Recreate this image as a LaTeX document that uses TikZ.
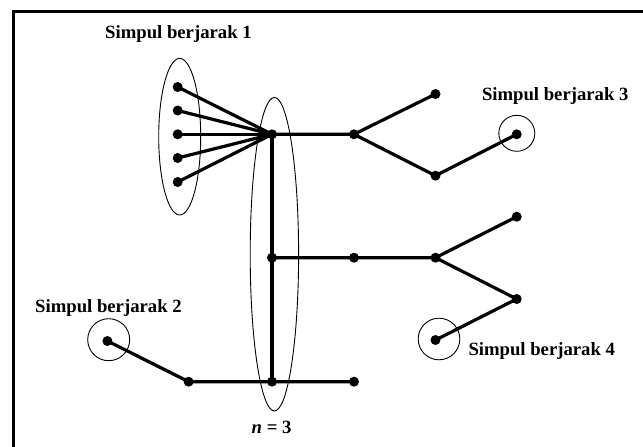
\documentclass[tikz,border=0pt]{standalone}
\usepackage{fontspec}
\setmainfont{Liberation Serif}
\usetikzlibrary{shapes.geometric}
\begin{document}
\begin{tikzpicture}[x=1pt,y=-1pt,
  dot/.style={circle,fill=black,inner sep=0pt,minimum size=10pt},
  edge/.style={line width=3.2pt},
  ring/.style={line width=0.9pt},
  lbl/.style={anchor=base west,inner sep=0pt,font=\fontsize{18.7}{20}\selectfont\bfseries}]
\useasboundingbox (0,0) rectangle (643,447);
% frame
\draw[line width=3pt] (13.5,452) -- (13.5,11.5) -- (650,11.5);
% nodes
\node[dot] (L1) at (177.7,87) {};
\node[dot] (L2) at (177.7,110.5) {};
\node[dot] (L3) at (177.7,134.3) {};
\node[dot] (L4) at (177.7,158) {};
\node[dot] (L5) at (177.7,182) {};
\node[dot] (A) at (272,134.3) {};
\node[dot] (B) at (354,134.3) {};
\node[dot] (C) at (435.5,94) {};
\node[dot] (D) at (435.5,175.7) {};
\node[dot] (E) at (516.7,134.3) {};
\node[dot] (F) at (272,257.7) {};
\node[dot] (G) at (354,257.7) {};
\node[dot] (H) at (435.5,257.7) {};
\node[dot] (I) at (516.7,216.7) {};
\node[dot] (J) at (516.7,299) {};
\node[dot] (K) at (435.5,340) {};
\node[dot] (L) at (107.4,341) {};
\node[dot] (M) at (188.6,381.7) {};
\node[dot] (N) at (272,381.7) {};
\node[dot] (O) at (354,381.7) {};
% edges
\foreach \s in {L1,L2,L3,L4,L5} \draw[edge] (\s.center) -- (A.center);
\draw[edge] (A.center) -- (B.center) -- (C.center);
\draw[edge] (B.center) -- (D.center) -- (E.center);
\draw[edge] (A.center) -- (F.center) -- (N.center);
\draw[edge] (F.center) -- (G.center) -- (H.center) -- (I.center);
\draw[edge] (H.center) -- (J.center) -- (K.center);
\draw[edge] (L.center) -- (M.center) -- (N.center) -- (O.center);
% groupings
\node[ring,draw,ellipse,minimum width=42pt,minimum height=156.6pt,inner sep=0pt] (E1) at (179.7,136.7) {};
\node[ring,draw,ellipse,minimum width=48.4pt,minimum height=313.6pt,inner sep=0pt] (E2) at (274.4,254.2) {};
\node[ring,draw,circle,minimum size=36pt,inner sep=0pt] (R3) at (516.8,133.3) {};
\node[ring,draw,circle,minimum size=41.6pt,inner sep=0pt] (R4) at (439,339) {};
\node[ring,draw,circle,minimum size=42pt,inner sep=0pt] (R2) at (108.7,339.7) {};
% labels
\node[lbl] (T1) at (105,38.7) {Simpul berjarak 1};
\node[lbl] (T3) at (481.8,100.5) {Simpul berjarak 3};
\node[lbl] (T2) at (35,312) {Simpul berjarak 2};
\node[lbl] (T4) at (468.3,355.3) {Simpul berjarak 4};
\node[lbl] (T5) at (251.5,433) {\textit{n} = 3};
\end{tikzpicture}
\end{document}
